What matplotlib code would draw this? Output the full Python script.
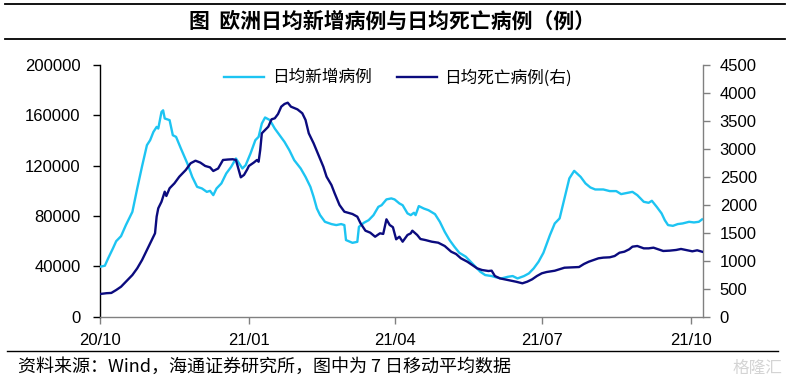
import matplotlib
matplotlib.use('Agg')
import matplotlib.pyplot as plt
import pandas as pd
from matplotlib.lines import Line2D

plt.rcParams['font.family'] = ['Liberation Sans', 'Noto Sans CJK SC', 'DejaVu Sans']

# ---------------- data ----------------
start_date = '2020-10-01'
# days since start_date, and 7-day average new cases (left axis)
case_days = [0, 3, 5, 8, 10, 13, 16, 20, 23, 26, 29, 31, 33, 35, 36, 38, 39, 40, 43, 45,
             47, 50, 54, 57, 60, 63, 66, 68, 70, 72, 75, 78, 81, 84, 88, 90, 93, 96, 98, 100,
             102, 105, 108, 111, 114, 117, 120, 124, 127, 130, 132, 134, 136, 139, 143, 146, 149, 151, 152, 156,
             159, 160, 163, 166, 169, 172, 174, 177, 180, 182, 185, 187, 190, 192, 194, 195, 197, 200, 203, 207,
             210, 213, 216, 219, 222, 226, 229, 232, 235, 238, 242, 245, 248, 252, 255, 258, 262, 265, 268, 271,
             274, 278, 281, 284, 287, 290, 293, 297, 300, 303, 306, 311, 315, 319, 322, 326, 329, 332, 336, 339,
             341, 344, 347, 349, 351, 354, 357, 360, 364, 367, 370, 372]
case_values = [39700, 40500, 46300, 54300, 60000, 64000, 72800, 83300, 101900, 119600, 136300, 140300, 146800, 150800, 149500, 162700, 164000, 157500, 156200, 144200,
               142900, 133600, 121700, 111100, 103200, 101900, 99200, 100000, 96600, 101900, 105900, 113800, 119000, 125700, 117800, 120400, 129700, 140300, 142900, 153500,
               158300, 156200, 149500, 144200, 138900, 132300, 124400, 117800, 111100, 103200, 95200, 86000, 80700, 75400, 73600, 72800, 73600, 72800, 60900, 58700,
               59500, 71400, 74600, 76700, 80700, 87300, 88600, 93200, 94000, 93200, 90000, 88600, 82100, 80700, 82600, 80700, 87900, 86000, 84600, 81500,
               75400, 67500, 60900, 55600, 50800, 47700, 43700, 39700, 35700, 33100, 32300, 31200, 30400, 31700, 32300, 30400, 32300, 34400, 38400, 43700,
               50800, 64800, 74100, 78100, 94000, 109900, 115900, 111100, 105900, 102700, 101100, 101100, 99800, 99800, 97400, 98400, 99200, 96600, 91300, 90500,
               92100, 87300, 82100, 76700, 72800, 72200, 73600, 74100, 75400, 74900, 75400, 77300]

# days since start_date, and 7-day average deaths (right axis)
death_days = [0, 4, 7, 10, 13, 16, 20, 23, 26, 29, 32, 34, 35, 36, 38, 40, 41, 43, 46, 49,
              53, 56, 59, 62, 65, 68, 70, 73, 76, 79, 82, 84, 87, 89, 91, 92, 95, 97, 98, 99,
              100, 102, 104, 106, 108, 110, 112, 114, 116, 118, 122, 125, 127, 129, 132, 135, 138, 140, 143, 145,
              148, 151, 156, 159, 161, 164, 167, 170, 173, 175, 177, 179, 181, 183, 185, 187, 190, 192, 193, 196,
              198, 201, 205, 209, 213, 217, 220, 223, 227, 230, 233, 236, 240, 242, 244, 247, 250, 254, 257, 261,
              264, 267, 270, 273, 276, 281, 287, 291, 296, 299, 302, 305, 308, 311, 315, 318, 321, 324, 327, 329,
              332, 336, 339, 342, 345, 348, 352, 356, 359, 362, 366, 369, 372]
death_values = [406, 420, 425, 477, 536, 626, 745, 865, 1014, 1193, 1371, 1491, 1788, 1938, 2056, 2235, 2158, 2296, 2385, 2503,
                2623, 2743, 2789, 2755, 2695, 2670, 2605, 2650, 2802, 2810, 2815, 2802, 2492, 2535, 2635, 2695, 2755, 2802, 2770, 2981,
                3279, 3338, 3397, 3529, 3547, 3624, 3755, 3803, 3826, 3755, 3707, 3637, 3517, 3279, 3100, 2891, 2682, 2503, 2355, 2206,
                1997, 1877, 1836, 1788, 1670, 1538, 1502, 1430, 1491, 1480, 1741, 1640, 1600, 1384, 1430, 1341, 1461, 1490, 1538, 1461,
                1389, 1371, 1341, 1323, 1264, 1162, 1121, 1044, 983, 924, 865, 835, 817, 823, 728, 686, 668, 644, 626, 597,
                626, 668, 728, 776, 799, 822, 876, 882, 888, 942, 983, 1014, 1044, 1056, 1062, 1085, 1144, 1162, 1205, 1252,
                1264, 1222, 1222, 1234, 1205, 1175, 1181, 1193, 1211, 1193, 1169, 1187, 1162]

tick_dates = ['2020-10-01', '2021-01-01', '2021-04-01', '2021-07-01', '2021-10-01']
tick_labels = ['20/10', '21/01', '21/04', '21/07', '21/10']
left_ticks = [0, 40000, 80000, 120000, 160000, 200000]
right_ticks = [0, 500, 1000, 1500, 2000, 2500, 3000, 3500, 4000, 4500]

series_names = ['日均新增病例', '日均死亡病例(右)']
title_text = '图  欧洲日均新增病例与日均死亡病例（例）'
source_text = '资料来源：Wind，海通证券研究所，图中为 7 日移动平均数据'

# ---------------- plot ----------------
t0 = pd.Timestamp(start_date)
case_dates = t0 + pd.to_timedelta(case_days, unit='D')
death_dates = t0 + pd.to_timedelta(death_days, unit='D')

W, H = 789, 385
fig = plt.figure(figsize=(W / 100, H / 100), dpi=100)
ax = fig.add_axes([100 / W, 1 - 316.7 / H, 603 / W, 251.7 / H])
ax2 = ax.twinx()

c_case = '#1DC4F2'
c_death = '#0B0B7E'
l1, = ax.plot(case_dates, case_values, color=c_case, lw=1.7, zorder=3)
l2, = ax2.plot(death_dates, death_values, color=c_death, lw=1.7, zorder=3)

ax.set_xlim(t0, t0 + pd.Timedelta(days=372.6))
ax.set_ylim(0, 200000)
ax2.set_ylim(0, 4500)
ax.set_yticks(left_ticks)
ax.set_yticklabels([str(v) for v in left_ticks])
ax2.set_yticks(right_ticks)
ax2.set_yticklabels([str(v) for v in right_ticks])
ax.set_xticks(pd.to_datetime(tick_dates))
ax.set_xticklabels(tick_labels)

for a in (ax, ax2):
    a.spines['top'].set_visible(False)
    a.patch.set_visible(False)
ax.spines['right'].set_visible(False)
ax2.spines['left'].set_visible(False)
ax2.spines['bottom'].set_visible(False)
ax.spines['left'].set_color('black')
ax.spines['bottom'].set_color('#808080')
ax2.spines['right'].set_color('#808080')
for s in ('left', 'bottom'):
    ax.spines[s].set_linewidth(1.0)
ax2.spines['right'].set_linewidth(1.0)

ax.tick_params(axis='y', direction='out', length=5, width=1, color='black', labelsize=12, pad=9)
ax.tick_params(axis='x', direction='out', length=5, width=1, color='#808080', labelsize=12, pad=7)
ax2.tick_params(axis='y', direction='out', length=5, width=1, color='#808080', labelsize=12, pad=7)

leg = fig.legend([l1, l2], series_names, loc='upper center', ncol=2,
                 bbox_to_anchor=(398 / W, 1 - 54 / H), frameon=False,
                 prop={'family': ['Noto Sans CJK SC', 'DejaVu Sans'], 'size': 12},
                 handlelength=2.4, columnspacing=1.5, handletextpad=0.45)

# title and separator lines
fig.add_artist(Line2D([5 / W, 785 / W], [1 - 4 / H, 1 - 4 / H], color='black', lw=1.3, transform=fig.transFigure))
fig.add_artist(Line2D([5 / W, 785 / W], [1 - 39 / H, 1 - 39 / H], color='black', lw=1.3, transform=fig.transFigure))
fig.text(392 / W, 1 - 21 / H, title_text, ha='center', va='center', fontsize=15, fontweight='bold',
         family=['Noto Sans CJK SC', 'DejaVu Sans'])
fig.add_artist(Line2D([7 / W, 778 / W], [1 - 351 / H, 1 - 351 / H], color='black', lw=1.0, transform=fig.transFigure))
fig.text(18 / W, 1 - 367 / H, source_text, ha='left', va='center', fontsize=13,
         family=['Noto Sans CJK SC', 'DejaVu Sans'])
fig.text(782 / W, 1 - 368 / H, '格隆汇', ha='right', va='center', fontsize=12, color='#d4d4d4',
         family=['Noto Sans CJK SC', 'DejaVu Sans'])

fig.savefig('out.png', dpi=100)
